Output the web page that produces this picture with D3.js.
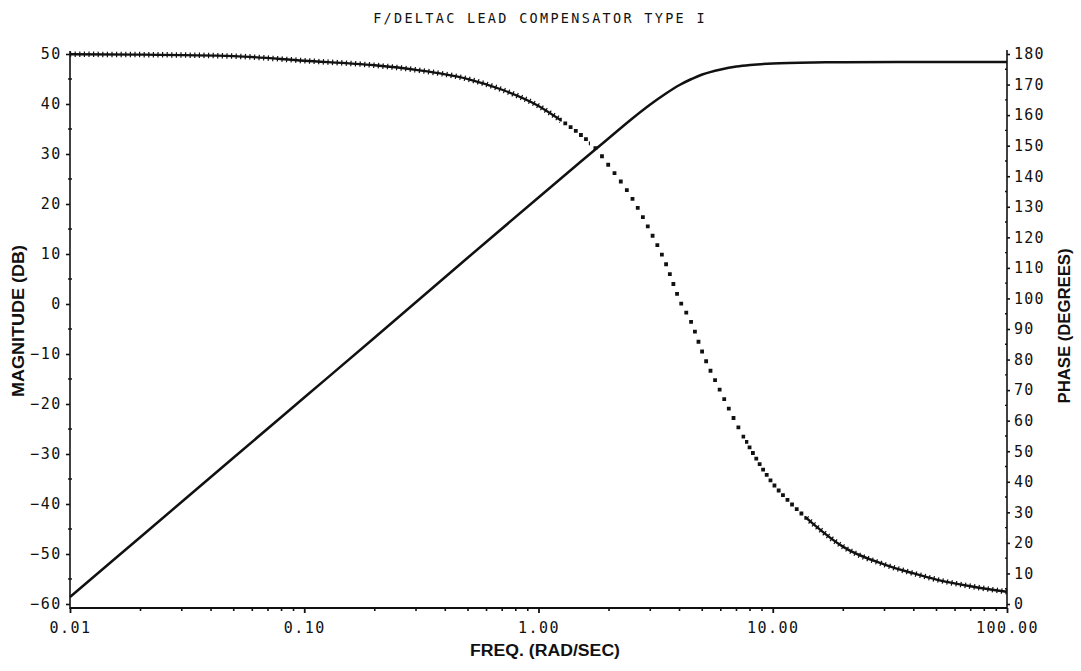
<!DOCTYPE html>
<html lang="en">
<head>
<meta charset="UTF-8">
<title>F/DELTAC lead compensator</title>
<script src="https://cdn.jsdelivr.net/npm/d3@7"></script>
<style>
  body { margin: 0; background: #fff; }
  svg text { fill: #111; }
</style>
</head>
<body>
<div id="chart"></div>
<script>
// values
var magFreq = [0.01, 0.02, 0.05, 0.1, 0.2, 0.5, 1, 1.5, 2, 2.5, 3, 3.5, 4, 4.5, 5, 6, 7, 8, 10, 15, 20, 50, 100];
var magDb   = [-58.6, -46.6, -30.7, -18.7, -6.7, 9.3, 21.3, 28.3, 33.2, 37.0, 39.9, 42.1, 43.8, 45.0, 45.9, 46.9, 47.5, 47.8, 48.1, 48.3, 48.35, 48.4, 48.4];

var phFreq = [0.01, 0.02, 0.05, 0.1, 0.2, 0.3, 0.5, 0.7, 1, 1.25, 1.5, 1.75, 2, 2.5, 3, 3.5, 4, 4.5, 5, 6, 7, 8, 10, 12, 15, 20, 30, 40, 50, 70, 100];
var phDeg  = [179.9, 179.8, 179.3, 177.8, 176.3, 174.8, 171.8, 168.3, 163.0, 158.2, 153.8, 149.2, 143.4, 133.0, 122.0, 111.3, 99.5, 92.0, 82.5, 69.4, 59.0, 51.0, 39.5, 32.8, 26.0, 18.7, 12.9, 10.0, 8.0, 5.8, 4.0];

var xMajor = [0.01, 0.1, 1, 10, 100];
var magTicks = [-60, -50, -40, -30, -20, -10, 0, 10, 20, 30, 40, 50];
var phTicks = [0, 10, 20, 30, 40, 50, 60, 70, 80, 90, 100, 110, 120, 130, 140, 150, 160, 170, 180];

var titleText = "F/DELTAC LEAD COMPENSATOR TYPE I";
var xTitle = "FREQ. (RAD/SEC)";
var yLeftTitle = "MAGNITUDE (DB)";
var yRightTitle = "PHASE (DEGREES)";

var w = 1081, h = 671;
var plotL = 70, plotR = 1007, plotT = 54, plotB = 604;
var axisY = plotB + 4;
var mono = "'DejaVu Sans Mono', 'Liberation Mono', monospace";

var svg = d3.select("#chart").append("svg")
  .attr("width", w)
  .attr("height", h);

var xScale = d3.scaleLog().domain([0.01, 100]).range([plotL, plotR]);
var yMag = d3.scaleLinear().domain([-60, 50]).range([plotB, plotT]);
var yPh = d3.scaleLinear().domain([0, 180]).range([plotB, plotT]);

// title
svg.append("text")
  .attr("x", 540).attr("y", 23)
  .attr("text-anchor", "middle")
  .attr("font-family", mono)
  .attr("font-size", "13.5px")
  .attr("letter-spacing", "2.3px")
  .text(titleText);

// left axis
var gl = svg.append("g")
  .attr("transform", "translate(" + plotL + ",0)")
  .call(d3.axisLeft(yMag).tickValues(magTicks).tickSize(4).tickPadding(4).tickFormat(d3.format("d")));
gl.select(".domain").attr("d", "M0," + (plotT - 3) + "V" + (axisY + 1));
gl.selectAll("text").attr("font-family", mono).attr("font-size", "15px").attr("letter-spacing", "1.6px");
gl.selectAll("line, path").attr("stroke", "#111").attr("stroke-width", 1.6);
gl.selectAll(".minor").data(d3.range(-55, 50, 10)).enter().append("line")
  .attr("class", "minor")
  .attr("x1", -2).attr("x2", 2)
  .attr("y1", function(d) { return yMag(d); })
  .attr("y2", function(d) { return yMag(d); })
  .attr("stroke", "#111").attr("stroke-width", 1.4);

// right axis
var gr = svg.append("g")
  .attr("transform", "translate(" + plotR + ",0)")
  .call(d3.axisRight(yPh).tickValues(phTicks).tickSize(3).tickPadding(4).tickFormat(d3.format("d")));
gr.select(".domain").attr("d", "M0," + (plotT - 4) + "V" + (axisY + 1));
gr.selectAll("text").attr("font-family", mono).attr("font-size", "15px").attr("letter-spacing", "1.2px");
gr.selectAll("line, path").attr("stroke", "#111").attr("stroke-width", 1.6);
gr.selectAll(".minor").data(d3.range(5, 180, 10)).enter().append("line")
  .attr("class", "minor")
  .attr("x1", -2).attr("x2", 0)
  .attr("y1", function(d) { return yPh(d); })
  .attr("y2", function(d) { return yPh(d); })
  .attr("stroke", "#111").attr("stroke-width", 1.4);

// bottom axis
var gb = svg.append("g")
  .attr("transform", "translate(0," + axisY + ")")
  .call(d3.axisBottom(xScale).tickValues(xMajor).tickSize(5).tickPadding(9).tickFormat(d3.format(".2f")));
gb.select(".domain").attr("d", "M" + plotL + ",0H" + plotR);
gb.selectAll("text").attr("font-family", mono).attr("font-size", "15px").attr("letter-spacing", "1.5px");
gb.selectAll("line, path").attr("stroke", "#111").attr("stroke-width", 1.8);
gb.selectAll(".minor").data(xScale.ticks().filter(function(d) { return xMajor.indexOf(d) < 0; }))
  .enter().append("line")
  .attr("class", "minor")
  .attr("x1", function(d) { return xScale(d); })
  .attr("x2", function(d) { return xScale(d); })
  .attr("y1", 0).attr("y2", 3)
  .attr("stroke", "#111").attr("stroke-width", 1.6);

// axis titles
svg.append("text")
  .attr("transform", "translate(24,321) rotate(-90)")
  .attr("text-anchor", "middle")
  .attr("font-family", "'Liberation Sans', Arial, sans-serif")
  .attr("font-weight", "bold")
  .attr("font-size", "16px")
  .attr("textLength", 152)
  .attr("lengthAdjust", "spacingAndGlyphs")
  .text(yLeftTitle);

svg.append("text")
  .attr("transform", "translate(1070,326) rotate(-90)")
  .attr("text-anchor", "middle")
  .attr("font-family", "'Liberation Sans', Arial, sans-serif")
  .attr("font-weight", "bold")
  .attr("font-size", "16px")
  .attr("textLength", 155)
  .attr("lengthAdjust", "spacingAndGlyphs")
  .text(yRightTitle);

svg.append("text")
  .attr("x", 545).attr("y", 656)
  .attr("text-anchor", "middle")
  .attr("font-family", "'Liberation Sans', Arial, sans-serif")
  .attr("font-weight", "bold")
  .attr("font-size", "16px")
  .attr("textLength", 150)
  .attr("lengthAdjust", "spacingAndGlyphs")
  .text(xTitle);

// clip regions for the plotter-style phase trace
var defs = svg.append("defs");
defs.append("clipPath").attr("id", "solidClip").selectAll("rect")
  .data([[0, 560], [806, w]]).enter().append("rect")
  .attr("x", function(d) { return d[0]; }).attr("y", 0)
  .attr("width", function(d) { return d[1] - d[0]; }).attr("height", h);
defs.append("clipPath").attr("id", "dotEdgeClip").selectAll("rect")
  .data([[560, 590], [745, 806]]).enter().append("rect")
  .attr("x", function(d) { return d[0]; }).attr("y", 0)
  .attr("width", function(d) { return d[1] - d[0]; }).attr("height", h);
defs.append("clipPath").attr("id", "dotMidClip").append("rect")
  .attr("x", 590).attr("y", 0).attr("width", 155).attr("height", h);

// magnitude
var magLine = d3.line()
  .x(function(d, i) { return xScale(magFreq[i]); })
  .y(function(d) { return yMag(d); })
  .curve(d3.curveCatmullRom);

svg.append("path")
  .attr("d", magLine(magDb))
  .attr("fill", "none")
  .attr("stroke", "#111")
  .attr("stroke-width", 2.5);

// phase
var phLine = d3.line()
  .x(function(d, i) { return xScale(phFreq[i]); })
  .y(function(d) { return yPh(d); })
  .curve(d3.curveMonotoneX);
var phPath = phLine(phDeg);

var solid = svg.append("g").attr("clip-path", "url(#solidClip)");
solid.append("path")
  .attr("d", phPath)
  .attr("fill", "none")
  .attr("stroke", "#111")
  .attr("stroke-width", 2.4);
solid.append("path")
  .attr("d", phPath)
  .attr("fill", "none")
  .attr("stroke", "#111")
  .attr("stroke-width", 5.5)
  .attr("stroke-dasharray", "1.2 3.4");

svg.append("path")
  .attr("clip-path", "url(#dotEdgeClip)")
  .attr("d", phPath)
  .attr("fill", "none")
  .attr("stroke", "#111")
  .attr("stroke-width", 3.8)
  .attr("stroke-linecap", "square")
  .attr("stroke-dasharray", "0 6.5");

svg.append("path")
  .attr("clip-path", "url(#dotMidClip)")
  .attr("d", phPath)
  .attr("fill", "none")
  .attr("stroke", "#111")
  .attr("stroke-width", 3.8)
  .attr("stroke-linecap", "square")
  .attr("stroke-dasharray", "0 10.5");
</script>
</body>
</html>
